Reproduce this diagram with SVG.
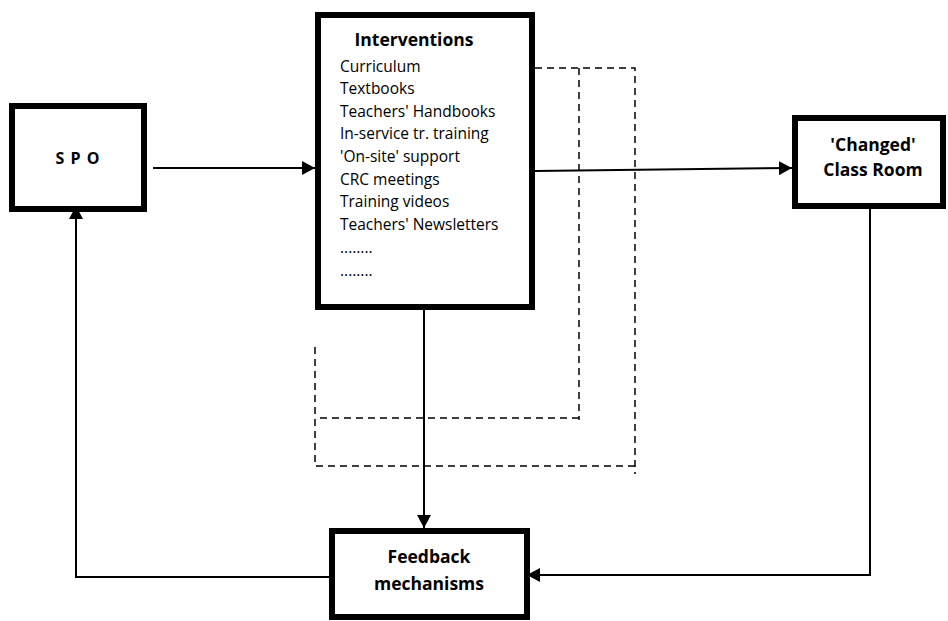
<svg xmlns="http://www.w3.org/2000/svg" width="948" height="621" viewBox="0 0 948 621">
<defs>
<style>
.box{fill:#fff;stroke:#000;stroke-width:6}
.t{font-family:"Open Sans","Liberation Sans",sans-serif;fill:#000}
.b{font-weight:bold;font-size:17.5px;text-anchor:middle}
.item{font-size:15.5px}
.conn{fill:none;stroke:#000;stroke-width:2}
.dash{fill:none;stroke:#000;stroke-width:1.5;stroke-dasharray:7 5}
</style>
<marker id="arr" markerWidth="13" markerHeight="14" refX="13" refY="7" orient="auto" markerUnits="userSpaceOnUse">
<path d="M0,0 L13,7 L0,14 Z" fill="#000"/>
</marker>
</defs>
<rect width="948" height="621" fill="#fff"/>
<g id="connectors">
<line class="conn" x1="153" y1="168" x2="315" y2="168" marker-end="url(#arr)"/>
<line class="conn" x1="535" y1="171" x2="792" y2="168" marker-end="url(#arr)"/>
<line class="conn" x1="424" y1="310" x2="424" y2="528" marker-end="url(#arr)"/>
<polyline class="conn" points="870,209 870,575 527,575" marker-end="url(#arr)"/>
<polyline class="conn" points="329,577 76,577 76,206" marker-end="url(#arr)"/>
<polyline class="dash" points="535,68 635,68 635,474"/>
<polyline class="dash" points="635,466 315,466 315,347"/>
<polyline class="dash" points="579,68 579,420"/>
<polyline class="dash" points="579,418 315,418"/>
</g>
<g id="spo">
<rect class="box" x="12" y="106" width="132" height="103"/>
<text class="t b" x="78" y="164" style="font-size:16px;letter-spacing:1px">S P O</text>
</g>
<g id="interventions">
<rect class="box" x="318" y="15" width="214" height="292"/>
<text class="t b" x="414" y="46">Interventions</text>
<text class="t item" x="340" y="72">Curriculum</text>
<text class="t item" x="340" y="94">Textbooks</text>
<text class="t item" x="340" y="117">Teachers' Handbooks</text>
<text class="t item" x="340" y="139">In-service tr. training</text>
<text class="t item" x="340" y="162">'On-site' support</text>
<text class="t item" x="340" y="185">CRC meetings</text>
<text class="t item" x="340" y="207">Training videos</text>
<text class="t item" x="340" y="230">Teachers' Newsletters</text>
<text class="t item" x="340" y="253">........</text>
<text class="t item" x="340" y="276">........</text>
</g>
<g id="classroom">
<rect class="box" x="795" y="118" width="148" height="88"/>
<text class="t b" x="873" y="151">'Changed'</text>
<text class="t b" x="873" y="176">Class Room</text>
</g>
<g id="feedback">
<rect class="box" x="332" y="531" width="195" height="86"/>
<text class="t b" x="429" y="563">Feedback</text>
<text class="t b" x="429" y="590">mechanisms</text>
</g>
</svg>
